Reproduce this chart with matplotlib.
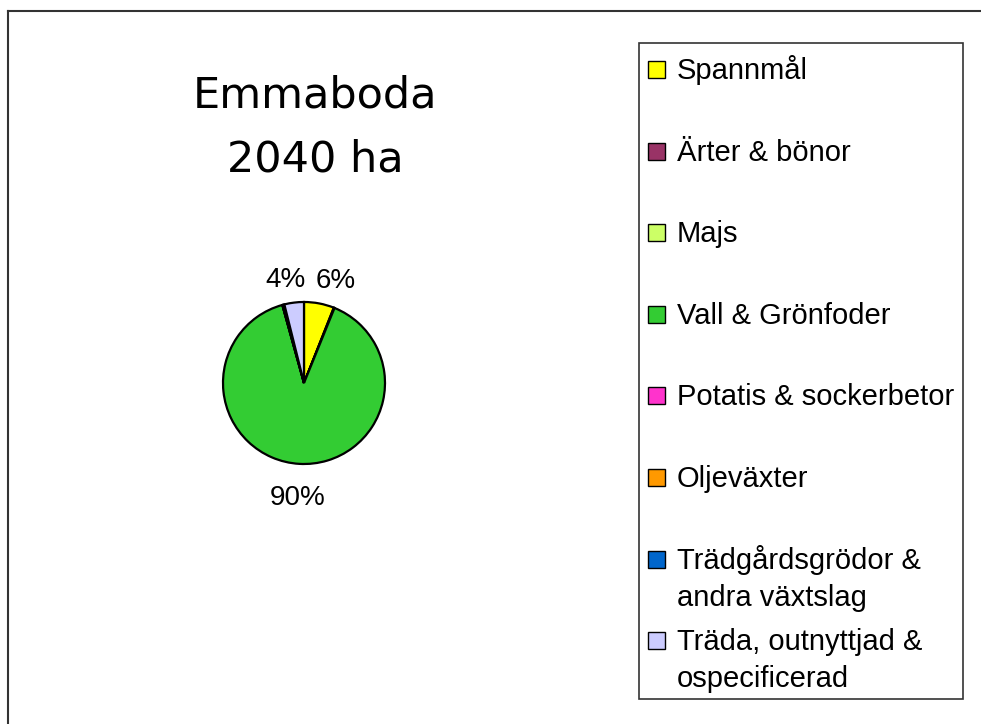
import matplotlib.pyplot as plt
from matplotlib.patches import Rectangle
from matplotlib.lines import Line2D

# data
categories = ["Spannmål", "Ärter & bönor", "Majs", "Vall & Grönfoder",
              "Potatis & sockerbetor", "Oljeväxter",
              "Trädgårdsgrödor &\nandra växtslag",
              "Träda, outnyttjad &\nospecificerad"]
shares = [6.0, 0.15, 0.0, 89.55, 0.0, 0.0, 0.4, 3.9]
colors = ["#FFFF00", "#993366", "#CCFF66", "#33CC33",
          "#FF33CC", "#FF9900", "#0066CC", "#CCCCFF"]
title_lines = ["Emmaboda", "2040 ha"]

W, H = 981, 724
fig = plt.figure(figsize=(W / 100, H / 100), dpi=100)
plt.rcParams["font.family"] = ["Liberation Sans", "DejaVu Sans"]


def fx(x):
    return x / W


def fy(y):
    return 1 - y / H


# outer frame (only top and left visible)
fig.add_artist(Line2D([fx(8), fx(8)], [fy(11), 0], transform=fig.transFigure,
                      color="#333333", lw=1.5))
fig.add_artist(Line2D([fx(8), 1], [fy(11), fy(11)], transform=fig.transFigure,
                      color="#333333", lw=1.5))

# title
fig.text(fx(315), fy(107), title_lines[0], family="DejaVu Sans", fontsize=31,
         ha="center", va="baseline")
fig.text(fx(315), fy(172), title_lines[1], family="DejaVu Sans", fontsize=31,
         ha="center", va="baseline")

# pie
cx, cy, r = 304, 383, 81
ax = fig.add_axes([fx(cx - r), fy(cy + r), 2 * r / W, 2 * r / H])


def pct_label(p):
    return f"{p:.0f}%" if p >= 1 else ""


wedges, texts, autotexts = ax.pie(
    shares, colors=colors, startangle=90, counterclock=False,
    autopct=pct_label, pctdistance=1.35,
    wedgeprops=dict(edgecolor="black", linewidth=1.6),
    textprops=dict(fontsize=20))
ax.set_xlim(-1, 1)
ax.set_ylim(-1, 1)
ax.set_aspect("auto")

# nudge labels down a bit, and push the two upper labels apart
for t in autotexts:
    x, y = t.get_position()
    t.set_position((x, y - 0.07))
top = [t for t in autotexts if t.get_text() and t.get_position()[1] > 0]
if len(top) == 2:
    a, b = sorted(top, key=lambda t: t.get_position()[0])
    (xa, ya), (xb, yb) = a.get_position(), b.get_position()
    mid = (xa + xb) / 2 + 0.04
    a.set_position((mid - 0.31, ya))
    b.set_position((mid + 0.31, yb))

# legend box drawn by hand
fig.add_artist(Rectangle((fx(639), fy(699)), (963 - 639) / W, (699 - 43) / H,
                         transform=fig.transFigure, fill=False,
                         edgecolor="#333333", lw=1.2))
step = 81.6
for i, (lab, col) in enumerate(zip(categories, colors)):
    base = 79 + i * step
    fig.add_artist(Rectangle((fx(648), fy(base - 1)), 17 / W, 17 / H,
                             transform=fig.transFigure, facecolor=col,
                             edgecolor="black", lw=1.0))
    for k, line in enumerate(lab.split("\n")):
        fig.text(fx(677), fy(base + k * 37), line, fontsize=21,
                 ha="left", va="baseline")

fig.savefig("out.png", dpi=100)
